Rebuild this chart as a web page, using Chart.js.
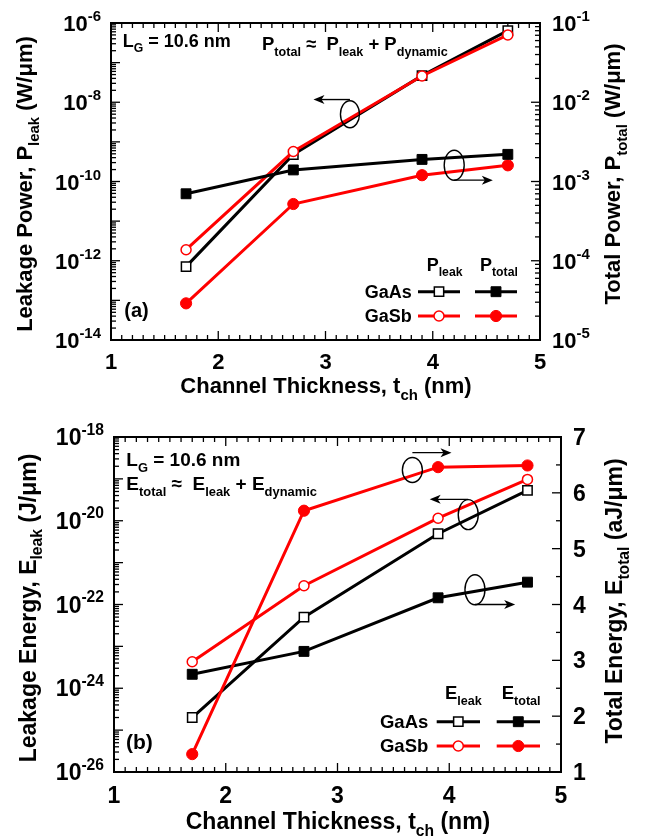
<!DOCTYPE html>
<html>
<head>
<meta charset="utf-8">
<script src="https://cdn.jsdelivr.net/npm/chart.js@4.4.0/dist/chart.umd.min.js"></script>
<style>
body { margin: 0; background: #fff; }
canvas { display: block; }
</style>
</head>
<body>
<canvas id="chartA" width="646" height="418"></canvas>
<canvas id="chartB" width="646" height="418"></canvas>
<script>
// channel thickness (nm)
var thickness = [1.7, 2.7, 3.9, 4.7];
// (a) power, W/um
var gaasPleak = [7.1e-13, 4.8e-10, 4.7e-8, 6.4e-7];
var gasbPleak = [1.9e-12, 5.7e-10, 4.6e-8, 5.0e-7];
var gaasPtotal = [7.0e-4, 1.4e-3, 1.9e-3, 2.2e-3];
var gasbPtotal = [2.9e-5, 5.2e-4, 1.2e-3, 1.6e-3];
// (b) energy, J/um and aJ/um
var gaasEleak = [2.0e-25, 5.0e-23, 4.9e-21, 5.3e-20];
var gasbEleak = [4.3e-24, 2.8e-22, 1.15e-20, 9.7e-20];
var gaasEtotal = [2.75, 3.16, 4.12, 4.4];
var gasbEtotal = [1.32, 5.68, 6.46, 6.49];
// tick labels
var xTicks = [1, 2, 3, 4, 5];
var powerLeakExp = [-6, -8, -10, -12, -14];
var powerTotalExp = [-1, -2, -3, -4, -5];
var energyLeakExp = [-18, -20, -22, -24, -26];
var energyTotalTicks = [1, 2, 3, 4, 5, 6, 7];

var FONT = "'Liberation Sans', Arial, sans-serif";
var RED = '#ff0000';

function pts(ys) {
    return thickness.map(function (x, i) { return { x: x, y: ys[i] }; });
}

function series(ys, axis, color, shape, filled, order) {
    return {
        data: pts(ys), yAxisID: axis, order: order,
        borderColor: color, borderWidth: 3, tension: 0, fill: false,
        pointStyle: shape,
        pointRadius: shape === 'rect' ? (filled ? 7 : 6.6) : (filled ? 5.6 : 5),
        pointBackgroundColor: filled ? color : '#fff',
        pointBorderColor: color,
        pointBorderWidth: filled ? 1 : 1.5
    };
}

function hiddenAxis(extra, size, isX) {
    var s = Object.assign({
        display: true,
        ticks: { display: false },
        grid: { display: false },
        border: { display: false },
        title: { display: false }
    }, extra);
    s.afterFit = function (scale) {
        if (isX) scale.height = size; else scale.width = size;
    };
    return s;
}

function drawRich(ctx, parts, x, y, size, align, rot) {
    var w = 0;
    parts.forEach(function (p) {
        ctx.font = 'bold ' + (p[1] ? size * 0.68 : size) + 'px ' + FONT;
        w += ctx.measureText(p[0]).width;
    });
    ctx.save();
    ctx.translate(x, y);
    if (rot) ctx.rotate(rot);
    ctx.fillStyle = '#000';
    ctx.textAlign = 'left';
    ctx.textBaseline = 'alphabetic';
    var cx = align === 'center' ? -w / 2 : (align === 'right' ? -w : 0);
    parts.forEach(function (p) {
        ctx.font = 'bold ' + (p[1] ? size * 0.68 : size) + 'px ' + FONT;
        var dy = p[1] === 1 ? size * 0.3 : (p[1] === 2 ? -size * 0.45 : 0);
        ctx.fillText(p[0], cx, dy);
        cx += ctx.measureText(p[0]).width;
    });
    ctx.restore();
}

function seg(ctx, x1, y1, x2, y2) {
    ctx.beginPath(); ctx.moveTo(x1, y1); ctx.lineTo(x2, y2); ctx.stroke();
}

function axisTicks(ctx, scale, t, x0, dir) {
    var e, m, v, py;
    if (t.log) {
        for (e = t.from; e <= t.to; e++) {
            py = scale.getPixelForValue(Math.pow(10, e));
            seg(ctx, x0, py, x0 + dir * 9, py);
            if (e === t.to) continue;
            for (m = 2; m <= 9; m++) {
                py = scale.getPixelForValue(m * Math.pow(10, e));
                seg(ctx, x0, py, x0 + dir * 5, py);
            }
        }
    } else {
        for (v = t.from; v <= t.to + 1e-9; v += t.minor) {
            py = scale.getPixelForValue(v);
            var major = Math.abs(v - Math.round(v)) < 1e-9;
            seg(ctx, x0, py, x0 + dir * (major ? 9 : 5), py);
        }
    }
}

function marker(ctx, ds, x, y) {
    ctx.save();
    ctx.fillStyle = ds.pointBackgroundColor;
    ctx.strokeStyle = ds.pointBorderColor;
    ctx.lineWidth = ds.pointBorderWidth;
    Chart.helpers.drawPoint(ctx, {
        pointStyle: ds.pointStyle, rotation: 0,
        radius: ds.pointRadius, borderWidth: ds.pointBorderWidth
    }, x, y);
    ctx.restore();
}

function decor(cfg) {
    return {
        id: 'decor' + cfg.name,
        beforeDatasetsDraw: function (chart) {
            var ctx = chart.ctx, a = chart.chartArea, sx = chart.scales.x;
            ctx.save();
            ctx.strokeStyle = '#000';
            ctx.lineWidth = 1.3;
            for (var i = 10; i <= 50; i++) {
                var px = sx.getPixelForValue(i / 10), len = i % 10 === 0 ? 9 : 5;
                seg(ctx, px, a.bottom, px, a.bottom - len);
                seg(ctx, px, a.top, px, a.top + len);
            }
            axisTicks(ctx, chart.scales.yL, cfg.leftTicks, a.left, 1);
            axisTicks(ctx, chart.scales.yR, cfg.rightTicks, a.right, -1);
            ctx.lineWidth = 2;
            ctx.strokeRect(a.left, a.top, a.right - a.left, a.bottom - a.top);
            ctx.restore();
        },
        afterDatasetsDraw: function (chart) {
            var ctx = chart.ctx, a = chart.chartArea, sx = chart.scales.x;
            var yL = chart.scales.yL, yR = chart.scales.yR, fs = cfg.tickSize;

            // tick labels
            xTicks.forEach(function (v) {
                drawRich(ctx, [[String(v), 0]], sx.getPixelForValue(v), a.bottom + cfg.xLabelDy, fs, 'center');
            });
            cfg.leftExp.forEach(function (e) {
                drawRich(ctx, [['10', 0], [String(e), 2]], a.left - 10, yL.getPixelForValue(Math.pow(10, e)) + 8, fs, 'right');
            });
            cfg.rightLabels.forEach(function (v) {
                var parts = cfg.rightLog ? [['10', 0], [String(v), 2]] : [[String(v), 0]];
                var val = cfg.rightLog ? Math.pow(10, v) : v;
                drawRich(ctx, parts, a.right + 12, yR.getPixelForValue(val) + 8, fs, 'left');
            });

            // texts and titles
            cfg.texts.forEach(function (t) {
                drawRich(ctx, t.parts, t.x, t.y, t.size, t.align || 'left', t.rot || 0);
            });

            // legend samples
            var ds = chart.data.datasets;
            ctx.save();
            cfg.legendRows.forEach(function (r) {
                [[r.open, cfg.legendX.open], [r.filled, cfg.legendX.filled]].forEach(function (pair) {
                    var d = ds[pair[0]], lx = pair[1];
                    ctx.strokeStyle = d.borderColor;
                    ctx.lineWidth = 3;
                    seg(ctx, lx[0], r.y, lx[1], r.y);
                    marker(ctx, d, lx[2], r.y);
                });
            });
            ctx.restore();

            // ellipses with arrows
            ctx.save();
            ctx.strokeStyle = '#000';
            ctx.fillStyle = '#000';
            ctx.lineWidth = 1.4;
            cfg.notes.forEach(function (n) {
                var sc = chart.scales[n.axis];
                var cx = sx.getPixelForValue(n.x), cy = sc.getPixelForValue(n.y);
                ctx.beginPath();
                ctx.ellipse(cx, cy, n.rx, n.ry, 0, 0, Math.PI * 2);
                ctx.stroke();
                var ay = sc.getPixelForValue(n.ay), ax = sx.getPixelForValue(n.ax);
                var dir = ax > cx ? 1 : -1;
                seg(ctx, cx, ay, ax - dir * 6, ay);
                ctx.beginPath();
                ctx.moveTo(ax, ay);
                ctx.lineTo(ax - dir * 11, ay - 4.5);
                ctx.lineTo(ax - dir * 8, ay);
                ctx.lineTo(ax - dir * 11, ay + 4.5);
                ctx.closePath();
                ctx.fill();
            });
            ctx.restore();
        }
    };
}

function baseOptions(o) {
    return {
        responsive: false,
        maintainAspectRatio: false,
        animation: false,
        events: [],
        layout: { padding: { top: o.top, left: 0, right: 0, bottom: 0 } },
        plugins: { legend: { display: false }, tooltip: { enabled: false } },
        scales: {
            x: hiddenAxis({ type: 'linear', position: 'bottom', min: 1, max: 5 }, o.xh, true),
            yL: hiddenAxis(Object.assign({ position: 'left' }, o.yL), o.lw, false),
            yR: hiddenAxis(Object.assign({ position: 'right' }, o.yR), o.rw, false)
        }
    };
}

// (a) power
new Chart(document.getElementById('chartA'), {
    type: 'line',
    data: {
        datasets: [
            series(gaasPtotal, 'yR', '#000', 'rect', true, 0),
            series(gasbPleak, 'yL', RED, 'circle', false, 1),
            series(gaasPleak, 'yL', '#000', 'rect', false, 2),
            series(gasbPtotal, 'yR', RED, 'circle', true, 3)
        ]
    },
    options: baseOptions({
        top: 23, xh: 78, lw: 111, rw: 106,
        yL: { type: 'logarithmic', min: 1e-14, max: 1e-6 },
        yR: { type: 'logarithmic', min: 1e-5, max: 1e-1 }
    }),
    plugins: [decor({
        name: 'A', tickSize: 22, xLabelDy: 28.5,
        leftTicks: { log: true, from: -14, to: -6 },
        rightTicks: { log: true, from: -5, to: -1 },
        leftExp: powerLeakExp, rightLabels: powerTotalExp, rightLog: true,
        texts: [
            { parts: [['L', 0], ['G', 1], [' = 10.6 nm', 0]], x: 122.7, y: 46.7, size: 18 },
            { parts: [['P', 0], ['total', 1], [' \u2248  P', 0], ['leak', 1], [' + P', 0], ['dynamic', 1]], x: 262, y: 50, size: 18.5 },
            { parts: [['(a)', 0]], x: 124.3, y: 317, size: 20 },
            { parts: [['P', 0], ['leak', 1]], x: 426.7, y: 270.7, size: 18 },
            { parts: [['P', 0], ['total', 1]], x: 480, y: 270.7, size: 18 },
            { parts: [['GaAs', 0]], x: 411.7, y: 297.5, size: 18, align: 'right' },
            { parts: [['GaSb', 0]], x: 411.7, y: 321.8, size: 18, align: 'right' },
            { parts: [['Channel Thickness, t', 0], ['ch', 1], [' (nm)', 0]], x: 326, y: 393, size: 22, align: 'center' },
            { parts: [['Leakage Power, P', 0], ['leak', 1], [' (W/\u03bcm)', 0]], x: 32, y: 184, size: 22, align: 'center', rot: -Math.PI / 2 },
            { parts: [['Total Power, P', 0], ['total', 1], [' (W/\u03bcm)', 0]], x: 620, y: 174, size: 22, align: 'center', rot: -Math.PI / 2 }
        ],
        legendX: { open: [418, 460, 439], filled: [475, 517, 496] },
        legendRows: [
            { y: 291.7, open: 2, filled: 0 },
            { y: 316, open: 1, filled: 3 }
        ],
        notes: [
            { axis: 'yL', x: 3.228, y: 5.0e-9, rx: 9.5, ry: 13.5, ay: 1.17e-8, ax: 2.888 },
            { axis: 'yR', x: 4.2, y: 1.6e-3, rx: 10, ry: 15, ay: 1.04e-3, ax: 4.56 }
        ]
    })]
});

// (b) energy
new Chart(document.getElementById('chartB'), {
    type: 'line',
    data: {
        datasets: [
            series(gasbEtotal, 'yR', RED, 'circle', true, 0),
            series(gasbEleak, 'yL', RED, 'circle', false, 1),
            series(gaasEleak, 'yL', '#000', 'rect', false, 2),
            series(gaasEtotal, 'yR', '#000', 'rect', true, 3)
        ]
    },
    options: baseOptions({
        top: 19, xh: 64, lw: 114, rw: 85,
        yL: { type: 'logarithmic', min: 1e-26, max: 1e-18 },
        yR: { type: 'linear', min: 1, max: 7 }
    }),
    plugins: [decor({
        name: 'B', tickSize: 23, xLabelDy: 31,
        leftTicks: { log: true, from: -26, to: -18 },
        rightTicks: { log: false, from: 1, to: 7, minor: 0.5 },
        leftExp: energyLeakExp, rightLabels: energyTotalTicks, rightLog: false,
        texts: [
            { parts: [['L', 0], ['G', 1], [' = 10.6 nm', 0]], x: 126.3, y: 48, size: 19 },
            { parts: [['E', 0], ['total', 1], [' \u2248  E', 0], ['leak', 1], [' + E', 0], ['dynamic', 1]], x: 126.3, y: 72, size: 19 },
            { parts: [['(b)', 0]], x: 126, y: 331, size: 21 },
            { parts: [['E', 0], ['leak', 1]], x: 445, y: 281.3, size: 18.5 },
            { parts: [['E', 0], ['total', 1]], x: 501.7, y: 281.3, size: 18.5 },
            { parts: [['GaAs', 0]], x: 428.3, y: 309.5, size: 18.5, align: 'right' },
            { parts: [['GaSb', 0]], x: 428.3, y: 333.8, size: 18.5, align: 'right' },
            { parts: [['Channel Thickness, t', 0], ['ch', 1], [' (nm)', 0]], x: 338, y: 411, size: 23, align: 'center' },
            { parts: [['Leakage Energy, E', 0], ['leak', 1], [' (J/\u03bcm)', 0]], x: 35.5, y: 190, size: 23, align: 'center', rot: -Math.PI / 2 },
            { parts: [['Total Energy, E', 0], ['total', 1], [' (aJ/\u03bcm)', 0]], x: 622, y: 183, size: 23, align: 'center', rot: -Math.PI / 2 }
        ],
        legendX: { open: [436.7, 480, 458.3], filled: [496.7, 540, 518.3] },
        legendRows: [
            { y: 303.7, open: 2, filled: 3 },
            { y: 328, open: 1, filled: 0 }
        ],
        notes: [
            { axis: 'yR', x: 3.67, y: 6.41, rx: 10, ry: 12.5, ay: 6.72, ax: 4.02 },
            { axis: 'yL', x: 4.17, y: 1.4e-20, rx: 10, ry: 15, ay: 3.24e-20, ax: 3.825 },
            { axis: 'yR', x: 4.23, y: 4.265, rx: 10, ry: 15, ay: 4.0, ax: 4.59 }
        ]
    })]
});
</script>
</body>
</html>
